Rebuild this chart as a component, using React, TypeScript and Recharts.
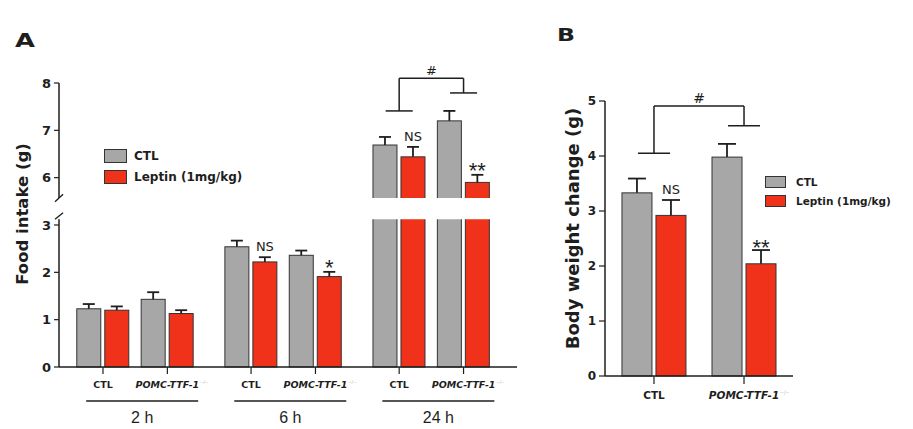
import React from 'react';
import {
  BarChart,
  Bar,
  XAxis,
  YAxis,
  ReferenceArea,
  ReferenceLine,
  ReferenceDot,
  Legend,
  LabelList,
} from 'recharts';

const FONT_BOLD = '"DejaVu Sans", "Liberation Sans", Arial, sans-serif';
const FONT_ARIAL = '"Liberation Sans", Arial, sans-serif';
const GRAY = '#a7a7a7';
const RED = '#ef3219';
const INK = '#1e1e1e';

// ---------- shared ----------
const seriesNames = ['CTL', 'Leptin (1mg/kg)'];
const seriesColors = [GRAY, RED];
const genotypes = ['CTL', 'POMC-TTF-1'];

// ---------- Panel A: food intake ----------
const timePoints = ['2 h', '6 h', '24 h'];
const intakeCtl = [1.23, 1.43, 2.54, 2.36, 6.69, 7.2];
const intakeCtlErr = [0.1, 0.15, 0.13, 0.1, 0.17, 0.21];
const intakeLep = [1.2, 1.13, 2.22, 1.91, 6.44, 5.9];
const intakeLepErr = [0.08, 0.07, 0.1, 0.1, 0.21, 0.16];
const intakeSig = ['', '', 'NS', '*', 'NS', '**'];
const intakeTickLabels = [0, 1, 2, 3, 6, 7, 8];
const intakeBracket = { left: 7.41, right: 7.79, top: 8.1, mark: '#' };

// ---------- Panel B: body weight change ----------
const bwCtl = [3.33, 3.98];
const bwCtlErr = [0.26, 0.24];
const bwLep = [2.92, 2.04];
const bwLepErr = [0.28, 0.25];
const bwSig = ['NS', '**'];
const bwTicks = [0, 1, 2, 3, 4, 5];
const bwBracket = { left: 4.05, right: 4.55, top: 4.91, mark: '#' };

// broken y axis for panel A: 3 -> 6 collapsed to one unit
const toAxis = (v: number) => (v <= 3 ? v : v - 2);
const BREAK_LO = 3.12;
const BREAK_HI = 3.57;

const PAIR_STEP = 2.3;
const slotX = (i: number) => Math.floor(i / 2) * PAIR_STEP + (i % 2);

const dataA = intakeCtl.map((v, i) => ({
  x: slotX(i),
  ctl: toAxis(v),
  ctlErr: toAxis(v + intakeCtlErr[i]) - toAxis(v),
  lep: toAxis(intakeLep[i]),
  lepErr: toAxis(intakeLep[i] + intakeLepErr[i]) - toAxis(intakeLep[i]),
  idx: i,
}));
const xTicksA = dataA.map((d) => d.x);
const groupTicksA = timePoints.map((_, g) => g * PAIR_STEP + 0.5);
const yTicksA = intakeTickLabels.map(toAxis);

const dataB = bwCtl.map((v, i) => ({
  x: i,
  ctl: v,
  ctlErr: bwCtlErr[i],
  lep: bwLep[i],
  lepErr: bwLepErr[i],
  idx: i,
}));

// bar with a one-sided (upper) error bar; error length scaled by the bar's own px/unit
const makeBarShape = (valKey: string, errKey: string, capW: number) => (props: any) => {
  const { x, y, width, height, payload, fill } = props;
  const v = payload[valKey];
  const e = payload[errKey];
  const ppu = v ? height / v : 0;
  const top = y - e * ppu;
  const cx = x + width / 2;
  return (
    <g>
      <rect x={x} y={y} width={width} height={height} fill={fill} stroke="#333" strokeWidth={1} />
      <line x1={cx} x2={cx} y1={y} y2={top} stroke={INK} strokeWidth={1.8} />
      <line x1={cx - capW / 2} x2={cx + capW / 2} y1={top} y2={top} stroke={INK} strokeWidth={1.8} />
    </g>
  );
};

const makeSigLabel =
  (rows: any[], sig: string[], starDy: number) => (props: any) => {
    const i = props.value;
    const row = rows[i];
    const mark = sig[i];
    if (!row || !mark) return null;
    const vb = props.viewBox || props;
    const ppu = vb.height / row.lep;
    const errTop = vb.y - row.lepErr * ppu;
    const star = mark.startsWith('*');
    return (
      <text
        x={vb.x + vb.width / 2}
        y={star ? errTop + starDy : errTop - 6}
        textAnchor="middle"
        fontFamily={star ? FONT_ARIAL : FONT_BOLD}
        fontSize={star ? 22 : 13}
        fill={INK}
      >
        {mark}
      </text>
    );
  };

const makeGenoTick = (fs: number) => (props: any) => {
  const { x, y, index } = props;
  const k = index % 2;
  const name = genotypes[k];
  return (
    <g>
      <text
        x={x}
        y={y + fs + 2}
        textAnchor="middle"
        fontFamily={FONT_BOLD}
        fontWeight="bold"
        fontStyle={k ? 'italic' : 'normal'}
        fontSize={fs}
        fill={INK}
      >
        {name}
      </text>
      {k ? (
        <text
          x={x + fs * 3.45}
          y={y + fs - 2}
          fontFamily={FONT_ARIAL}
          fontSize={fs * 0.6}
          fill="#c4c4c4"
        >
          −/−
        </text>
      ) : null}
    </g>
  );
};

const GroupTickA = (props: any) => {
  const { x, y, index } = props;
  return (
    <g>
      <line x1={x - 49} x2={x + 63} y1={y + 14} y2={y + 14} stroke={INK} strokeWidth={1.5} />
      <text
        x={x + 7}
        y={y + 36}
        textAnchor="middle"
        fontFamily={FONT_ARIAL}
        fontSize={16}
        fill={INK}
      >
        {timePoints[index]}
      </text>
    </g>
  );
};

const makeLegend =
  (o: { w: number; h: number; pitch: number; gap: number; fs: number }) => () => (
    <div style={{ fontFamily: FONT_BOLD, fontWeight: 'bold', fontSize: o.fs, color: INK }}>
      {seriesNames.map((n, i) => (
        <div key={n} style={{ display: 'flex', alignItems: 'center', height: o.pitch }}>
          <span
            style={{
              display: 'inline-block',
              width: o.w,
              height: o.h,
              background: seriesColors[i],
              border: '1px solid #333',
              boxSizing: 'border-box',
            }}
          />
          <span style={{ marginLeft: o.gap, whiteSpace: 'nowrap' }}>{n}</span>
        </div>
      ))}
    </div>
  );

const yLabel = (text: string, fs: number, dx: number, dy: number) => (p: any) => {
  const vb = p.viewBox;
  const cx = vb.x + dx;
  const cy = vb.y + vb.height / 2 + dy;
  return (
    <text
      transform={`translate(${cx}, ${cy}) rotate(-90)`}
      textAnchor="middle"
      dominantBaseline="central"
      fontFamily={FONT_BOLD}
      fontWeight="bold"
      fontSize={fs}
      fill={INK}
    >
      {text}
    </text>
  );
};

const bracketLines = (
  xl: number,
  xr: number,
  b: { left: number; right: number; top: number },
  capHalf: number,
  tf: (v: number) => number,
  prefix: string
) => {
  const segs = [
    [{ x: xl - capHalf, y: tf(b.left) }, { x: xl + capHalf, y: tf(b.left) }],
    [{ x: xl, y: tf(b.left) }, { x: xl, y: tf(b.top) }],
    [{ x: xl, y: tf(b.top) }, { x: xr, y: tf(b.top) }],
    [{ x: xr, y: tf(b.top) }, { x: xr, y: tf(b.right) }],
    [{ x: xr - capHalf, y: tf(b.right) }, { x: xr + capHalf, y: tf(b.right) }],
  ];
  return segs.map((s, i) => (
    <ReferenceLine
      key={prefix + i}
      segment={s as any}
      stroke={INK}
      strokeWidth={1.5}
      ifOverflow="visible"
    />
  ));
};

const tickStyle = (fs: number) => ({
  fontFamily: FONT_BOLD,
  fontWeight: 'bold',
  fontSize: fs,
  fill: INK,
});

const PanelLetter = ({ x, y, ch, fs, w }: { x: number; y: number; ch: string; fs: number; w: number }) => (
  <text
    x={x}
    y={y}
    fontFamily={FONT_BOLD}
    fontWeight="bold"
    fontSize={fs}
    textLength={w}
    lengthAdjust="spacingAndGlyphs"
    fill={INK}
  >
    {ch}
  </text>
);

export default function App() {
  return (
    <div style={{ position: 'absolute', left: 0, top: 0, width: 913, height: 429, background: '#fff' }}>
      <svg width={913} height={429} style={{ position: 'absolute', left: 0, top: 0 }}>
        <PanelLetter x={15} y={47} ch="A" fs={19} w={20} />
        <PanelLetter x={557} y={41} ch="B" fs={18} w={18} />
      </svg>

      {/* Panel A */}
      <div style={{ position: 'absolute', left: 0, top: 0 }}>
        <BarChart
          width={540}
          height={429}
          data={dataA}
          margin={{ top: 83, right: 23, bottom: 0, left: 19 }}
          barSize={24}
          barGap={4}
        >
          <XAxis
            dataKey="x"
            type="number"
            domain={[-0.683, 6.43]}
            ticks={xTicksA}
            interval={0}
            height={20}
            tickSize={7}
            tickMargin={2}
            axisLine={{ stroke: INK, strokeWidth: 1.5 }}
            tickLine={{ stroke: INK, strokeWidth: 1.2 }}
            tick={makeGenoTick(9.5)}
          />
          <XAxis
            xAxisId="grp"
            dataKey="x"
            type="number"
            domain={[-0.683, 6.43]}
            ticks={groupTicksA}
            interval={0}
            height={42}
            tickSize={0}
            tickMargin={0}
            axisLine={false}
            tickLine={false}
            tick={GroupTickA}
          />
          <YAxis
            type="number"
            domain={[0, 6]}
            ticks={yTicksA}
            interval={0}
            width={40}
            tickSize={5}
            tickMargin={3}
            axisLine={{ stroke: INK, strokeWidth: 1.5 }}
            tickLine={{ stroke: INK, strokeWidth: 1.2 }}
            tick={tickStyle(13)}
            tickFormatter={(t: number) => String(intakeTickLabels[yTicksA.indexOf(t)])}
            label={yLabel('Food intake (g)', 16.5, 3, -11)}
          />
          <Legend
            layout="vertical"
            align="center"
            verticalAlign="middle"
            wrapperStyle={{ left: 104, top: 145, width: 160 }}
            content={makeLegend({ w: 23, h: 14, pitch: 21, gap: 7, fs: 12 })}
          />
          <Bar
            dataKey="ctl"
            fill={GRAY}
            isAnimationActive={false}
            shape={makeBarShape('ctl', 'ctlErr', 12)}
          />
          <Bar
            dataKey="lep"
            fill={RED}
            isAnimationActive={false}
            shape={makeBarShape('lep', 'lepErr', 12)}
          >
            <LabelList dataKey="idx" content={makeSigLabel(dataA, intakeSig, 3)} />
          </Bar>
          <ReferenceArea
            x1={-0.76}
            x2={6.43}
            y1={BREAK_LO}
            y2={BREAK_HI}
            fill="#fff"
            fillOpacity={1}
            stroke="none"
            ifOverflow="visible"
            {...({ zIndex: 650 } as any)}
          />
          <ReferenceLine
            segment={[{ x: -0.745, y: BREAK_LO }, { x: -0.62, y: BREAK_LO + 0.14 }] as any}
            stroke={INK}
            strokeWidth={1.3}
            ifOverflow="visible"
            {...({ zIndex: 700 } as any)}
          />
          <ReferenceLine
            segment={[{ x: -0.745, y: BREAK_HI - 0.08 }, { x: -0.62, y: BREAK_HI + 0.08 }] as any}
            stroke={INK}
            strokeWidth={1.3}
            ifOverflow="visible"
            {...({ zIndex: 700 } as any)}
          />
          {bracketLines(xTicksA[4], xTicksA[5], intakeBracket, 0.21, toAxis, 'ba')}
          <ReferenceDot
            x={(xTicksA[4] + xTicksA[5]) / 2}
            y={toAxis(intakeBracket.top)}
            r={0}
            ifOverflow="visible"
            label={{
              value: intakeBracket.mark,
              position: 'top',
              offset: 3,
              fontFamily: FONT_BOLD,
              fontSize: 13,
              fill: INK,
            }}
          />
        </BarChart>
      </div>

      {/* Panel B */}
      <div style={{ position: 'absolute', left: 540, top: 0 }}>
        <BarChart
          width={373}
          height={429}
          data={dataB}
          margin={{ top: 101, right: 120, bottom: 23, left: 25 }}
          barSize={30}
          barGap={4}
        >
          <XAxis
            dataKey="x"
            type="number"
            domain={[-0.544, 1.544]}
            ticks={[0, 1]}
            interval={0}
            height={30}
            tickSize={8}
            tickMargin={2}
            axisLine={{ stroke: INK, strokeWidth: 1.5 }}
            tickLine={{ stroke: INK, strokeWidth: 1.2 }}
            tick={makeGenoTick(10.5)}
          />
          <YAxis
            type="number"
            domain={[0, 5]}
            ticks={bwTicks}
            interval={0}
            width={40}
            tickSize={6}
            tickMargin={3}
            axisLine={{ stroke: INK, strokeWidth: 1.5 }}
            tickLine={{ stroke: INK, strokeWidth: 1.2 }}
            tick={tickStyle(12)}
            label={yLabel('Body weight change (g)', 18, 7, -10)}
          />
          <Legend
            layout="vertical"
            align="center"
            verticalAlign="middle"
            wrapperStyle={{ left: 225, top: 172, width: 140 }}
            content={makeLegend({ w: 21, h: 12, pitch: 19, gap: 10, fs: 10.5 })}
          />
          <Bar
            dataKey="ctl"
            fill={GRAY}
            isAnimationActive={false}
            shape={makeBarShape('ctl', 'ctlErr', 18)}
          />
          <Bar
            dataKey="lep"
            fill={RED}
            isAnimationActive={false}
            shape={makeBarShape('lep', 'lepErr', 18)}
          >
            <LabelList dataKey="idx" content={makeSigLabel(dataB, bwSig, 5)} />
          </Bar>
          {bracketLines(0, 1, bwBracket, 0.178, (v) => v, 'bb')}
          <ReferenceDot
            x={0.5}
            y={bwBracket.top}
            r={0}
            ifOverflow="visible"
            label={{
              value: bwBracket.mark,
              position: 'top',
              offset: 3,
              fontFamily: FONT_BOLD,
              fontSize: 14,
              fill: INK,
            }}
          />
        </BarChart>
      </div>
    </div>
  );
}
